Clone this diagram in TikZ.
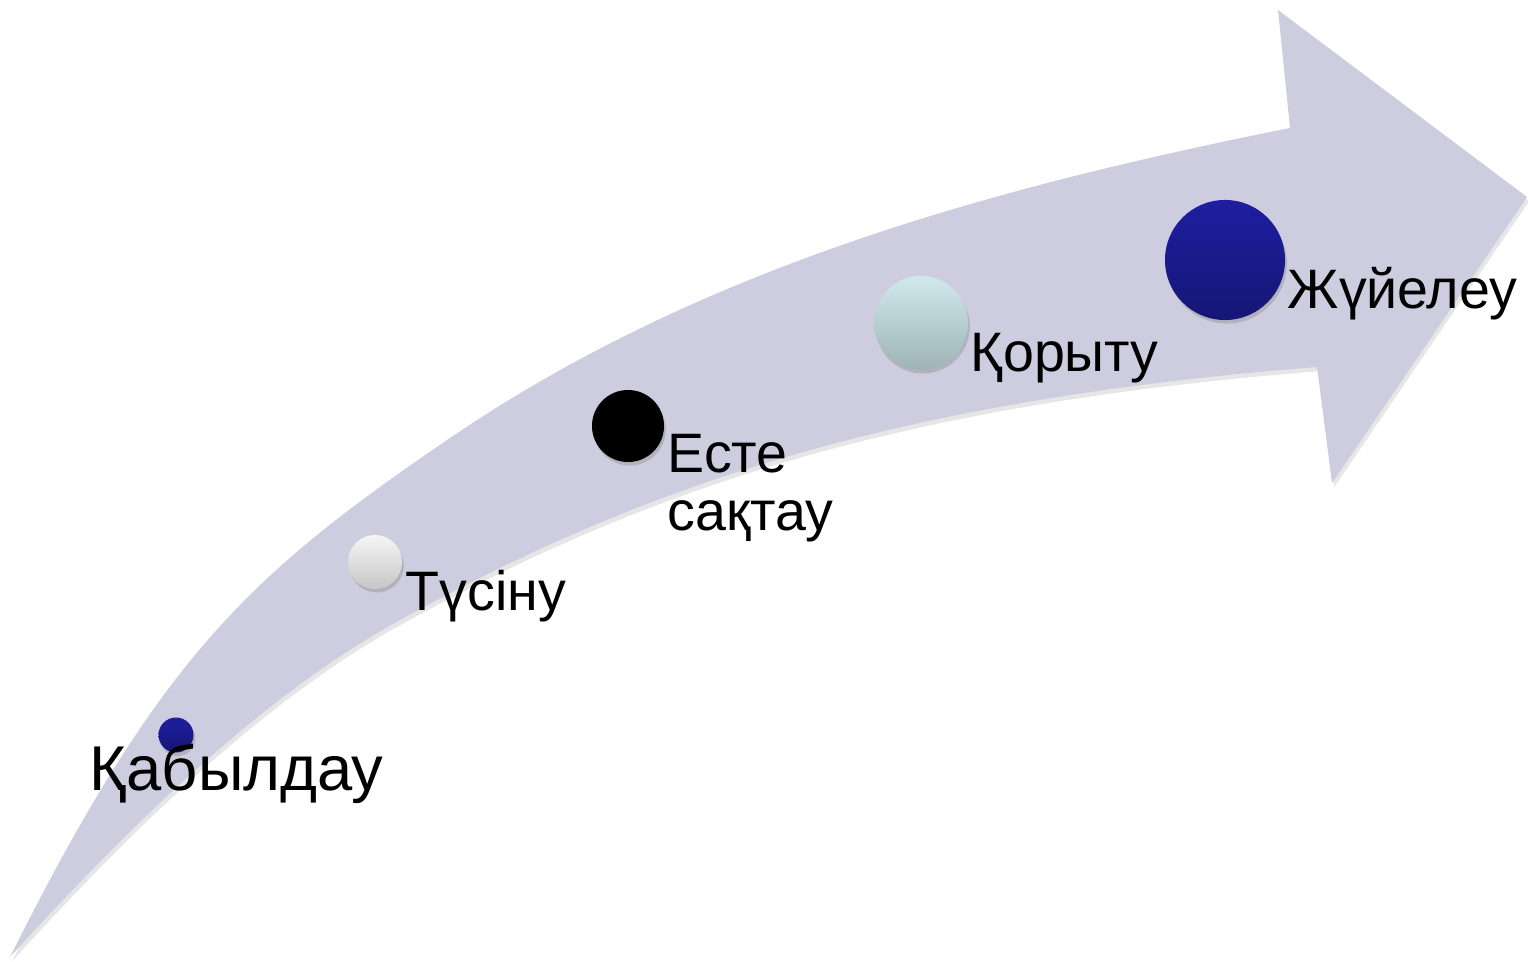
\documentclass[tikz,border=0pt]{standalone}
\usepackage{fontspec}
\setmainfont{Liberation Sans}
\usetikzlibrary{shadows}
\definecolor{arrowlav}{RGB}{205,205,223}
\definecolor{navytop}{RGB}{30,30,160}
\definecolor{navybot}{RGB}{22,22,118}
\definecolor{tealtop}{RGB}{208,233,236}
\definecolor{tealbot}{RGB}{158,180,183}
\begin{document}
\begin{tikzpicture}[x=0.01cm,y=-0.01cm,
  stagedot/.style={circle,inner sep=0pt,drop shadow={opacity=0.35,shadow xshift=0.5pt,shadow yshift=-1pt}},
  stagelabel/.style={inner sep=0pt,font=\fontsize{15.8pt}{16.5pt}\selectfont,align=left}]
\useasboundingbox (0,0) rectangle (1528,961);
% the bent arrow
\fill[arrowlav,drop shadow={opacity=0.2,shadow xshift=0.6pt,shadow yshift=-1.2pt}]
  (10,957) .. controls (160,657) and (250,574) .. (450,438)
  .. controls (700,268) and (990,188) .. (1290,128)
  -- (1278,10) -- (1527,197) -- (1332,483) -- (1317,367)
  .. controls (900,400) and (650,482) .. (400,620)
  .. controls (270,691) and (140,814) .. (10,957) -- cycle;
% dots
\node[stagedot,minimum size=0.35cm,top color=navytop,bottom color=navybot] (dot1) at (176,735) {};
\node[stagedot,minimum size=0.54cm,top color=white!96!black,bottom color=white!78!black] (dot2) at (375,562) {};
\node[stagedot,minimum size=0.72cm,fill=black] (dot3) at (628,426) {};
\node[stagedot,minimum size=0.94cm,top color=tealtop,bottom color=tealbot] (dot4) at (921,323) {};
\node[stagedot,minimum size=1.20cm,top color=navytop,bottom color=navybot] (dot5) at (1225,260) {};
% labels
\node[stagelabel,anchor=base west,font=\fontsize{18pt}{18.5pt}\selectfont] (lab1) at (89,790) {Қабылдау};
\node[stagelabel,anchor=base west] (lab2) at (405,610) {Түсіну};
\node[stagelabel,anchor=north west] (lab3) at (667,434) {Есте\\сақтау};
\node[stagelabel,anchor=base west] (lab4) at (970,372) {Қорыту};
\node[stagelabel,anchor=base west] (lab5) at (1287,308) {Жүйелеу};
\end{tikzpicture}
\end{document}
